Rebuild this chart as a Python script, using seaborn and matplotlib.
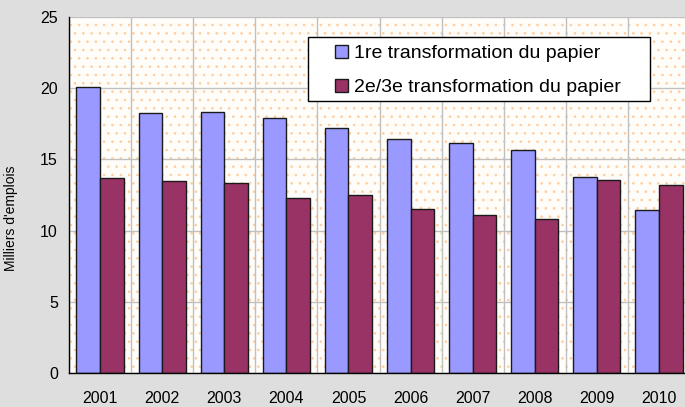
import pandas as pd
import matplotlib.pyplot as plt
import seaborn as sns
from matplotlib.patches import Rectangle

annees = ['2001', '2002', '2003', '2004', '2005', '2006', '2007', '2008', '2009', '2010']
premiere = [20.1, 18.25, 18.3, 17.9, 17.2, 16.45, 16.15, 15.65, 13.75, 11.45]
seconde = [13.7, 13.5, 13.35, 12.3, 12.5, 11.5, 11.1, 10.8, 13.55, 13.2]
series = ['1re transformation du papier', '2e/3e transformation du papier']

df = pd.DataFrame({
    'annee': annees * 2,
    'emplois': premiere + seconde,
    'serie': [series[0]] * len(annees) + [series[1]] * len(annees),
})

sns.set_style("white")
plt.rcParams['font.family'] = ['Liberation Sans', 'DejaVu Sans']
plt.rcParams['hatch.linewidth'] = 0.7
plt.rcParams['text.color'] = 'black'
plt.rcParams['xtick.color'] = 'black'
plt.rcParams['ytick.color'] = 'black'
plt.rcParams['axes.labelcolor'] = 'black'

fig = plt.figure(figsize=(6.85, 4.07), dpi=100, facecolor='#dedede')
ax = fig.add_axes([69 / 685, 34 / 407, 621 / 685, 356 / 407])
ax.patch.set_facecolor('#fffdfa')

# fond pointillé orange
fond = Rectangle((0, 0), 1, 1, transform=ax.transAxes, facecolor='none',
                 edgecolor='#ffcf9f', linewidth=0, hatch='..', zorder=0.5)
ax.add_patch(fond)

sns.barplot(data=df, x='annee', y='emplois', hue='serie', ax=ax,
            palette=['#9999ff', '#993366'], width=0.76, saturation=1,
            edgecolor='#1a1a1a', linewidth=1, zorder=3)

ax.set_xlim(-0.5, 9.5)
ax.set_ylim(0, 25)
ax.set_yticks([0, 5, 10, 15, 20, 25])
ax.set_xticks([i - 0.5 for i in range(11)], minor=True)
ax.tick_params(axis='x', which='major', length=0, labelsize=11.5, pad=13)
ax.tick_params(axis='x', which='minor', length=5, width=1, color='black', direction='out')
ax.tick_params(axis='y', length=5, width=1, color='black', direction='out', labelsize=11.5, pad=3)
ax.grid(axis='y', color='#c0c0c0', linewidth=1, zorder=1)
ax.grid(axis='x', which='minor', color='#c0c0c0', linewidth=1, zorder=1)
ax.set_axisbelow(True)

for s in ['top', 'right']:
    ax.spines[s].set_visible(False)
for s in ['left', 'bottom']:
    ax.spines[s].set_color('black')
    ax.spines[s].set_linewidth(1)
    ax.spines[s].set_zorder(4)

ax.set_xlabel('')
ax.set_ylabel("Milliers d'emplois", fontsize=10)
ax.yaxis.set_label_coords(-51 / 621, (373 - 218) / 356)

# cadre de la légende
cadre = Rectangle((308 / 685, 1 - 101 / 407), 342 / 685, 64 / 407, transform=fig.transFigure,
                  facecolor='white', edgecolor='black', linewidth=1, zorder=4.5, clip_on=False)
ax.add_patch(cadre)

leg = ax.legend(loc='upper left', bbox_to_anchor=(335 / 685, 1 - 45 / 407),
                bbox_transform=fig.transFigure, fontsize=14, frameon=False,
                handlelength=0.65, handleheight=0.65, handletextpad=0.35,
                borderpad=0, labelspacing=0.85, borderaxespad=0)
leg.set_zorder(5)

fig.savefig('out.png', dpi=100, facecolor=fig.get_facecolor())
